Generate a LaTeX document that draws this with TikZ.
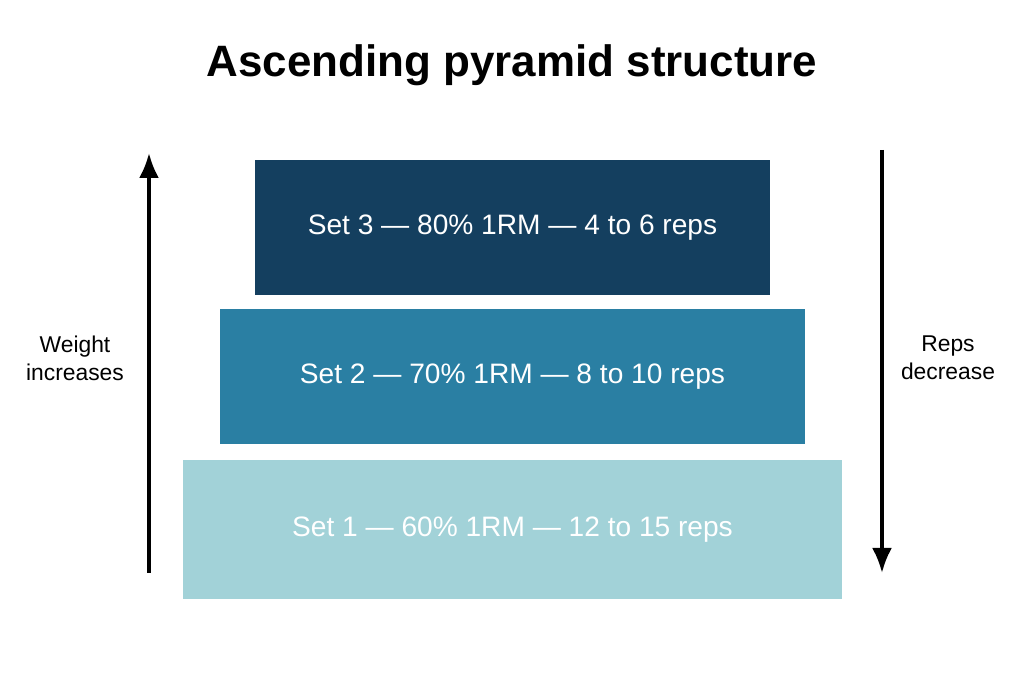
\documentclass[tikz,border=0pt]{standalone}
\usepackage{fontspec}
\setmainfont{Liberation Sans}
\usetikzlibrary{arrows.meta, positioning}
\definecolor{setdark}{HTML}{143F5F}
\definecolor{setmid}{HTML}{2A7FA3}
\definecolor{setlight}{HTML}{A2D2D8}
\tikzset{
  setbox/.style={minimum height=2.7cm, text=white, font=\fontsize{16}{18}\selectfont, inner sep=0pt},
  sidearrow/.style={-{Latex[length=5mm, width=4mm]}, line width=2pt, black},
  sidelabel/.style={font=\fontsize{13}{16}\selectfont, align=center}
}
\begin{document}
\begin{tikzpicture}
  \useasboundingbox (0,0) rectangle (20.48,13.66);

  % Title
  \node (title) at (10.24,12.36) {\fontsize{25}{30}\selectfont\bfseries Ascending pyramid structure};

  % Sets
  \node (set3) [setbox, fill=setdark, minimum width=10.3cm] at (10.25,9.11) {Set 3 --- 80\% 1RM --- 4 to 6 reps};
  \node (set2) [setbox, fill=setmid, minimum width=11.7cm] at (10.25,6.12) {Set 2 --- 70\% 1RM --- 8 to 10 reps};
  \node (set1) [setbox, fill=setlight, minimum width=13.18cm, minimum height=2.78cm] at (10.25,3.07) {Set 1 --- 60\% 1RM --- 12 to 15 reps};

  % Side arrows
  \coordinate (wlow) at (2.98,2.2);
  \coordinate (whigh) at (2.98,10.6);
  \coordinate (rhigh) at (17.64,10.66);
  \coordinate (rlow) at (17.64,2.2);
  \draw[sidearrow] (wlow) -- (whigh);
  \draw[sidearrow] (rhigh) -- (rlow);

  % Side labels
  \node (weight) [sidelabel] at (1.5,6.5) {Weight\\increases};
  \node (reps) [sidelabel] at (18.96,6.5) {Reps\\decrease};
\end{tikzpicture}
\end{document}
